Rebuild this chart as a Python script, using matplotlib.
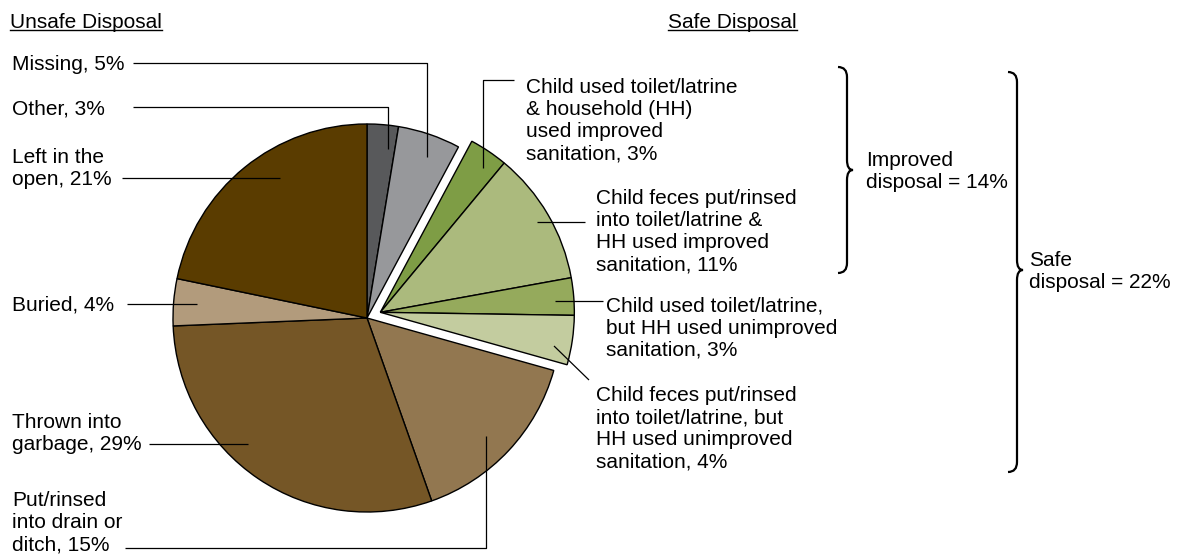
import matplotlib
matplotlib.use('Agg')
import matplotlib.pyplot as plt
from matplotlib.path import Path
from matplotlib.patches import PathPatch
import numpy as np

plt.rcParams['font.family'] = ['Liberation Sans', 'DejaVu Sans']

# ---- data (clockwise from 12 o'clock) ----
categories = ["Other", "Missing",
              "Child used toilet/latrine & HH used improved sanitation",
              "Child feces put/rinsed into toilet/latrine & HH used improved sanitation",
              "Child used toilet/latrine, but HH used unimproved sanitation",
              "Child feces put/rinsed into toilet/latrine, but HH used unimproved sanitation",
              "Put/rinsed into drain or ditch", "Thrown into garbage", "Buried", "Left in the open"]
values = [2.6, 5.2, 3.2, 11.1, 3.1, 4.1, 15.2, 29.7, 3.9, 21.7]
colors = ["#58595b", "#97989b", "#7e9d45", "#abba7d", "#95aa5c", "#c3cc9f",
          "#927750", "#755626", "#b29b7c", "#5a3c00"]
safe_group = [2, 3, 4, 5]

label_texts = ["Other, 3%", "Missing, 5%",
               "Child used toilet/latrine\n& household (HH)\nused improved\nsanitation, 3%",
               "Child feces put/rinsed\ninto toilet/latrine &\nHH used improved\nsanitation, 11%",
               "Child used toilet/latrine,\nbut HH used unimproved\nsanitation, 3%",
               "Child feces put/rinsed\ninto toilet/latrine, but\nHH used unimproved\nsanitation, 4%",
               "Put/rinsed\ninto drain or\nditch, 15%", "Thrown into\ngarbage, 29%",
               "Buried, 4%", "Left in the\nopen, 21%"]
header_left = "Unsafe Disposal"
header_right = "Safe Disposal"
brace_improved = "Improved\ndisposal = 14%"
brace_safe = "Safe\ndisposal = 22%"

W, H = 1184, 556
fig = plt.figure(figsize=(W / 100, H / 100), dpi=100)
ax = fig.add_axes([0, 0, 1, 1])


def Y(py):
    return H - py


cx, cy, R = 367, Y(318), 194
wedges, _ = ax.pie(values, colors=colors, startangle=90, counterclock=False,
                   radius=R, center=(cx, cy), frame=True,
                   wedgeprops=dict(edgecolor='black', linewidth=1.0))

# explode the safe-disposal group as one block
total = sum(values)
g0 = sum(values[:safe_group[0]]) / total
g1 = sum(values[:safe_group[-1] + 1]) / total
mid = np.deg2rad(90 - 360 * (g0 + g1) / 2)
off = 14.5
for i in safe_group:
    wedges[i].set_center((cx + off * np.cos(mid), cy + off * np.sin(mid)))

ax.set_xlim(0, W)
ax.set_ylim(0, H)
ax.axis('off')

LW = 0.9
FS = 15
TD = 2  # text baseline nudge (px)


def line(xs, ys):
    ax.plot(xs, [Y(v) for v in ys], color='black', lw=LW, solid_capstyle='butt')


def label(x, y_first, y_last, txt):
    ax.text(x, Y((y_first + y_last) / 2 + TD), txt, fontsize=FS, ha='left', va='center')


# left labels + leaders
label(12, 63, 63, label_texts[1])
line([133, 427, 427], [63, 63, 157])
label(12, 107, 107, label_texts[0])
line([133, 388, 388], [107, 107, 149])
label(12, 154, 179, label_texts[9])
line([122, 280], [178, 178])
label(12, 303, 303, label_texts[8])
line([127, 197], [304, 304])
label(12, 419, 444, label_texts[7])
line([149, 248], [444, 444])
label(12, 495, 547, label_texts[6])
line([125, 486, 486], [548, 548, 436])

# right labels + leaders
label(526, 80, 157, label_texts[2])
line([514, 483, 483], [80, 80, 168])
label(596, 192, 268, label_texts[3])
line([585, 537], [222, 222])
label(606, 300, 353, label_texts[4])
line([603, 555], [301, 301])
label(596, 388, 465, label_texts[5])
line([554, 589], [346, 380])

# headers with underline
fig.canvas.draw()
rend = fig.canvas.get_renderer()
for x, txt in [(10, header_left), (668, header_right)]:
    t = ax.text(x, Y(21 + TD), txt, fontsize=FS, ha='left', va='center')
    bb = t.get_window_extent(renderer=rend)
    ax.plot([bb.x0, bb.x1], [Y(30), Y(30)], color='black', lw=1.0)


# curly braces
def brace(x, ytop, ybot, ytip, w_end=9, w_tip=6, r=10):
    ytop, ybot, ytip = Y(ytop), Y(ybot), Y(ytip)
    verts = [(x - w_end, ytop), (x, ytop), (x, ytop - r),
             (x, ytip + r),
             (x, ytip), (x + w_tip, ytip),
             (x, ytip), (x, ytip - r),
             (x, ybot + r),
             (x, ybot), (x - w_end, ybot)]
    codes = [Path.MOVETO, Path.CURVE3, Path.CURVE3,
             Path.LINETO,
             Path.CURVE3, Path.CURVE3,
             Path.CURVE3, Path.CURVE3,
             Path.LINETO,
             Path.CURVE3, Path.CURVE3]
    ax.add_patch(PathPatch(Path(verts, codes), fill=False, edgecolor='black', lw=1.6))


brace(847, 67, 273, 170)
ax.text(866, Y(170 + TD), brace_improved, fontsize=FS, ha='left', va='center')
brace(1017, 72, 472, 270)
ax.text(1029, Y(270 + TD), brace_safe, fontsize=FS, ha='left', va='center')

fig.savefig('out.png', dpi=100)
